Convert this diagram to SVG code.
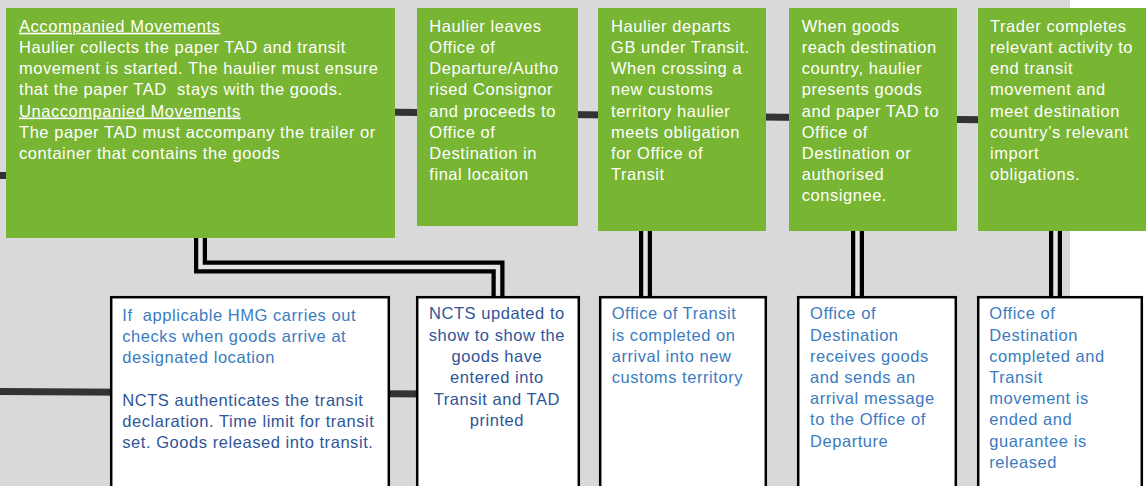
<svg xmlns="http://www.w3.org/2000/svg" width="1146" height="486" viewBox="0 0 1146 486">
<style>
.g{fill:#77B532}
.w{fill:#FFFFFF;stroke:#000000;stroke-width:2.5}
.tw{font-family:"Liberation Sans",Arial,sans-serif;font-size:16.5px;letter-spacing:0.55px;fill:#FFFFFF;white-space:pre}
.tb{font-family:"Liberation Sans",Arial,sans-serif;font-size:16.5px;letter-spacing:0.55px;fill:#3B7BC0;white-space:pre}
.td{fill:#2F5597}
.u{text-decoration:underline}
.thick{fill:none;stroke:#333333;stroke-width:7}
.dbo{fill:none;stroke:#000000;stroke-width:13;stroke-linejoin:miter}
.dbi{fill:none;stroke:#E4E4E4;stroke-width:4.5;stroke-linejoin:miter}
</style>
<rect x="0" y="0" width="1146" height="486" fill="#FFFFFF"/>
<rect x="0" y="0" width="1070" height="486" fill="#D9D9D9"/>
<g id="connectors">
<path class="thick" d="M0,175.5 H30"/>
<path class="thick" d="M380,112 L1000,120"/>
<path class="thick" d="M0,391.5 L430,394"/>
<path class="dbo" d="M200.5,236 V267 H498 V298"/>
<path class="dbi" d="M200.5,236 V267 H498 V298"/>
<path class="dbo" d="M645.5,229 V298"/>
<path class="dbi" d="M645.5,229 V298"/>
<path class="dbo" d="M857.5,229 V298"/>
<path class="dbi" d="M857.5,229 V298"/>
<path class="dbo" d="M1055.5,229 V298"/>
<path class="dbi" d="M1055.5,229 V298"/>
</g>
<g id="step1">
<rect class="g" x="6" y="8" width="389" height="230"/>
<text class="tw" x="19">
<tspan class="u" x="19" y="31.7">Accompanied Movements</tspan>
<tspan x="19" y="52.9">Haulier collects the paper TAD and transit</tspan>
<tspan x="19" y="74.1">movement is started. The haulier must ensure</tspan>
<tspan x="19" y="95.3">that the paper TAD  stays with the goods.</tspan>
<tspan class="u" x="19" y="116.5">Unaccompanied Movements</tspan>
<tspan x="19" y="137.7">The paper TAD must accompany the trailer or</tspan>
<tspan x="19" y="158.9">container that contains the goods</tspan>
</text>
</g>
<g id="step2">
<rect class="g" x="417" y="8" width="161" height="218"/>
<text class="tw">
<tspan x="429.3" y="31.7">Haulier leaves</tspan>
<tspan x="429.3" y="52.9">Office of</tspan>
<tspan x="429.3" y="74.1">Departure/Autho</tspan>
<tspan x="429.3" y="95.3">rised Consignor</tspan>
<tspan x="429.3" y="116.5">and proceeds to</tspan>
<tspan x="429.3" y="137.7">Office of</tspan>
<tspan x="429.3" y="158.9">Destination in</tspan>
<tspan x="429.3" y="180.1">final locaiton</tspan>
</text>
</g>
<g id="step3">
<rect class="g" x="598" y="8" width="168" height="223"/>
<text class="tw">
<tspan x="611" y="31.7">Haulier departs</tspan>
<tspan x="611" y="52.9">GB under Transit.</tspan>
<tspan x="611" y="74.1">When crossing a</tspan>
<tspan x="611" y="95.3">new customs</tspan>
<tspan x="611" y="116.5">territory haulier</tspan>
<tspan x="611" y="137.7">meets obligation</tspan>
<tspan x="611" y="158.9">for Office of</tspan>
<tspan x="611" y="180.1">Transit</tspan>
</text>
</g>
<g id="step4">
<rect class="g" x="789" y="8" width="168" height="223"/>
<text class="tw">
<tspan x="801.7" y="31.7">When goods</tspan>
<tspan x="801.7" y="52.9">reach destination</tspan>
<tspan x="801.7" y="74.1">country, haulier</tspan>
<tspan x="801.7" y="95.3">presents goods</tspan>
<tspan x="801.7" y="116.5">and paper TAD to</tspan>
<tspan x="801.7" y="137.7">Office of</tspan>
<tspan x="801.7" y="158.9">Destination or</tspan>
<tspan x="801.7" y="180.1">authorised</tspan>
<tspan x="801.7" y="201.3">consignee.</tspan>
</text>
</g>
<g id="step5">
<rect class="g" x="978" y="8" width="170" height="223"/>
<text class="tw">
<tspan x="990" y="31.7">Trader completes</tspan>
<tspan x="990" y="52.9">relevant activity to</tspan>
<tspan x="990" y="74.1">end transit</tspan>
<tspan x="990" y="95.3">movement and</tspan>
<tspan x="990" y="116.5">meet destination</tspan>
<tspan x="990" y="137.7">country’s relevant</tspan>
<tspan x="990" y="158.9">import</tspan>
<tspan x="990" y="180.1">obligations.</tspan>
</text>
</g>
<g id="system1">
<rect class="w" x="111.2" y="297.2" width="277.6" height="200"/>
<text class="tb">
<tspan x="122.3" y="320.7">If  applicable HMG carries out</tspan>
<tspan x="122.3" y="341.9">checks when goods arrive at</tspan>
<tspan x="122.3" y="363.1">designated location</tspan>
<tspan class="td" x="122.3" y="405.5">NCTS authenticates the transit</tspan>
<tspan class="td" x="122.3" y="426.7">declaration. Time limit for transit</tspan>
<tspan class="td" x="122.3" y="447.9">set. Goods released into transit.</tspan>
</text>
</g>
<g id="system2">
<rect class="w" x="417.2" y="297.2" width="161.6" height="200"/>
<text class="tb td" text-anchor="middle">
<tspan x="499.5" y="319.3">NCTS updated to</tspan>
<tspan x="499.5" y="340.6">show to show the</tspan>
<tspan x="499.5" y="361.9">goods have</tspan>
<tspan x="499.5" y="383.2">entered into</tspan>
<tspan x="499.5" y="404.5">Transit and TAD</tspan>
<tspan x="499.5" y="425.8">printed</tspan>
</text>
</g>
<g id="system3">
<rect class="w" x="600.2" y="297.2" width="165.6" height="200"/>
<text class="tb">
<tspan x="611.7" y="319.3">Office of Transit</tspan>
<tspan x="611.7" y="340.5">is completed on</tspan>
<tspan x="611.7" y="361.7">arrival into new</tspan>
<tspan x="611.7" y="382.9">customs territory</tspan>
</text>
</g>
<g id="system4">
<rect class="w" x="798.2" y="297.2" width="157.6" height="200"/>
<text class="tb">
<tspan x="810" y="319.3">Office of</tspan>
<tspan x="810" y="340.5">Destination</tspan>
<tspan x="810" y="361.7">receives goods</tspan>
<tspan x="810" y="382.9">and sends an</tspan>
<tspan x="810" y="404.1">arrival message</tspan>
<tspan x="810" y="425.3">to the Office of</tspan>
<tspan x="810" y="446.5">Departure</tspan>
</text>
</g>
<g id="system5">
<rect class="w" x="978.2" y="297.2" width="163.6" height="200"/>
<text class="tb">
<tspan x="989.3" y="319.3">Office of</tspan>
<tspan x="989.3" y="340.5">Destination</tspan>
<tspan x="989.3" y="361.7">completed and</tspan>
<tspan x="989.3" y="382.9">Transit</tspan>
<tspan x="989.3" y="404.1">movement is</tspan>
<tspan x="989.3" y="425.3">ended and</tspan>
<tspan x="989.3" y="446.5">guarantee is</tspan>
<tspan x="989.3" y="467.7">released</tspan>
</text>
</g>
</svg>
